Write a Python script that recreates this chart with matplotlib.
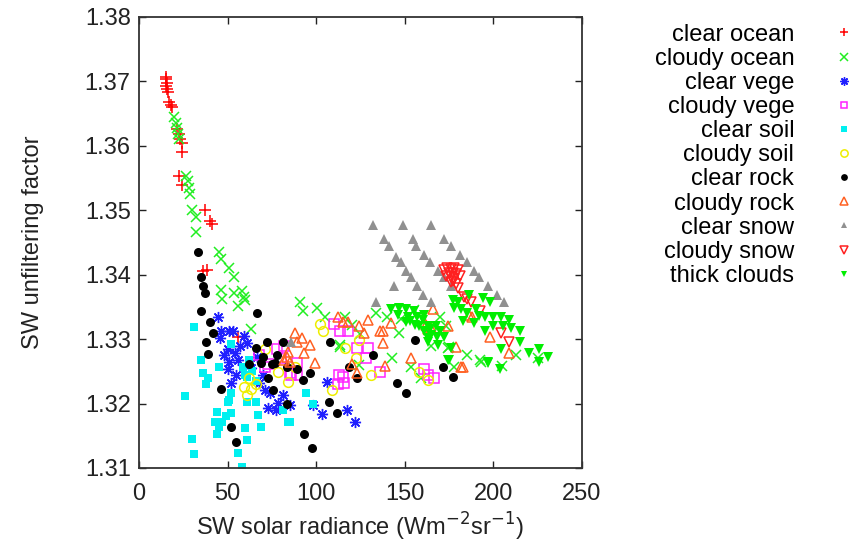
import matplotlib
matplotlib.use("Agg")
import matplotlib.pyplot as plt

plt.rcParams['font.family'] = ['Liberation Sans', 'DejaVu Sans']

# ---- data (x = SW radiance, y = unfiltering factor) ----
clear_ocean_x = [15.5, 15, 16, 15.5, 16, 16.5, 17, 18, 18.5, 21.5, 22.5, 23, 24, 24.5,
                 22.7, 24.4, 37, 40, 41, 36, 38.5, 56]
clear_ocean_y = [1.3707, 1.3703, 1.3698, 1.3693, 1.3688, 1.3683, 1.3668, 1.3664, 1.3660,
                 1.3626, 1.3618, 1.3610, 1.3605, 1.3590, 1.3553, 1.3540, 1.3500, 1.3483,
                 1.3478, 1.3405, 1.3407, 1.3304]

cloudy_ocean_x = [20, 21, 21.5, 22, 22.5, 26.7, 27.5, 28, 29, 30, 32, 32, 45, 46.5, 51,
                  53.5, 46, 47, 53.5, 58, 59, 60, 56, 63, 91, 92.6, 100.5, 105, 113.5,
                  116.5, 113.6, 124, 133.5, 143, 146.6, 153.5, 159, 174.5, 178, 192.6,
                  148, 175, 193, 173, 125, 120, 140, 165, 205, 185, 213, 225, 170, 155]
cloudy_ocean_y = [1.3644, 1.3635, 1.3627, 1.3618, 1.3610, 1.3553, 1.3545, 1.3535, 1.3525,
                  1.3500, 1.3490, 1.3466, 1.3435, 1.3424, 1.3411, 1.3396, 1.3377, 1.3363,
                  1.3372, 1.3374, 1.3366, 1.3361, 1.3351, 1.3316, 1.3357, 1.3344, 1.3349,
                  1.3335, 1.3291, 1.3335, 1.3288, 1.3260, 1.3341, 1.3271, 1.3310, 1.3256,
                  1.3240, 1.3287, 1.3256, 1.3268, 1.3332, 1.3288, 1.3265, 1.3320, 1.3308,
                  1.3322, 1.3335, 1.3290, 1.3258, 1.3275, 1.3275, 1.3270, 1.3335, 1.3345]

clear_vege_x = [44.5, 46.5, 51, 53, 45.5, 50, 54, 61, 57, 51, 56, 50, 55, 52, 66.5, 68,
                71, 74, 73, 78.5, 81, 77.5, 85, 98, 103.5, 106, 117.5, 122, 59, 63, 48, 70]
clear_vege_y = [1.3335, 1.3312, 1.3313, 1.3312, 1.3302, 1.3284, 1.3279, 1.3294, 1.3289,
                1.3265, 1.3268, 1.3253, 1.3245, 1.3232, 1.3273, 1.3232, 1.3221, 1.3217,
                1.3193, 1.3201, 1.3214, 1.3190, 1.3198, 1.3198, 1.3184, 1.3234, 1.3190,
                1.3172, 1.3305, 1.3255, 1.3275, 1.3245]

cloudy_vege_x = [71, 73, 85, 89, 115, 112.5, 110, 113.5, 118, 123, 129, 128, 136, 113,
                 115.5, 86, 89, 161, 163, 166.5, 78, 80, 82, 68]
cloudy_vege_y = [1.3256, 1.3262, 1.3248, 1.3245, 1.3242, 1.3231, 1.3323, 1.3312, 1.3312,
                 1.3287, 1.3287, 1.3271, 1.3249, 1.3245, 1.3232, 1.3245, 1.3263, 1.3253,
                 1.3245, 1.3240, 1.3285, 1.3270, 1.3290, 1.3275]

clear_soil_x = [26, 31, 35, 36, 39, 38, 45, 52, 52, 50, 44, 43, 47, 45, 52, 60, 44, 30,
                61, 31, 56, 58, 67, 69, 84, 94, 66, 61, 58.5, 62, 61, 51, 81, 98, 49, 85,
                64, 66, 60]
clear_soil_y = [1.3212, 1.3319, 1.3268, 1.3248, 1.3240, 1.3230, 1.3257, 1.3293, 1.3217,
                1.3203, 1.3187, 1.3172, 1.3172, 1.3164, 1.3186, 1.3162, 1.3152, 1.3145,
                1.3144, 1.3122, 1.3123, 1.3102, 1.3183, 1.3164, 1.3172, 1.3217, 1.3203,
                1.3203, 1.3256, 1.3268, 1.3242, 1.3206, 1.3190, 1.3200, 1.3181, 1.3172,
                1.3250, 1.3235, 1.3245]

cloudy_soil_x = [62, 61, 63, 71, 78.5, 84, 102, 104, 109, 116.5, 122.5, 131, 158, 163,
                 66, 59, 124, 88]
cloudy_soil_y = [1.3240, 1.3214, 1.3222, 1.3284, 1.3249, 1.3234, 1.3323, 1.3312, 1.3221,
                 1.3287, 1.3271, 1.3245, 1.3249, 1.3237, 1.3231, 1.3226, 1.3298, 1.3256]

clear_rock_x = [33.5, 35, 36, 37, 35, 40, 41.5, 38, 39, 66.5, 72, 81, 66, 78, 69, 46.5,
                77, 83.5, 73, 75.5, 92.5, 96.5, 83.5, 107, 112, 108, 52, 54.5, 93, 97.5,
                89, 132, 123, 118.7, 156, 145.5, 150.5, 171.5, 177, 62, 70, 75]
clear_rock_y = [1.3436, 1.3397, 1.3382, 1.3372, 1.3344, 1.3326, 1.3309, 1.3296, 1.3277,
                1.3340, 1.3296, 1.3296, 1.3287, 1.3276, 1.3263, 1.3223, 1.3263, 1.3256,
                1.3240, 1.3221, 1.3237, 1.3248, 1.3200, 1.3203, 1.3186, 1.3296, 1.3164,
                1.3141, 1.3152, 1.3131, 1.3254, 1.3276, 1.3240, 1.3256, 1.3299, 1.3232,
                1.3217, 1.3257, 1.3242, 1.3262, 1.3273, 1.3262]

cloudy_rock_x = [88, 92, 96.5, 99.5, 83.5, 84, 82, 85, 115, 112.5, 118, 124, 127, 129.5,
                 136, 139, 153.5, 166, 161, 174.5, 182, 163, 137.5, 137.5, 179, 183, 186,
                 188, 198, 209, 142, 120, 123, 162, 165, 89, 93]
cloudy_rock_y = [1.3310, 1.3302, 1.3291, 1.3263, 1.3273, 1.3280, 1.3268, 1.3265, 1.3327,
                 1.3335, 1.3326, 1.3320, 1.3310, 1.3330, 1.3312, 1.3259, 1.3271, 1.3346,
                 1.3327, 1.3320, 1.3256, 1.3315, 1.3312, 1.3294, 1.3288, 1.3256, 1.3338,
                 1.3335, 1.3304, 1.3279, 1.3325, 1.3262, 1.3248, 1.3322, 1.3318, 1.3295,
                 1.3278]

clear_snow_x = [132, 149, 165, 138, 141, 145, 148, 150.5, 153.5, 157, 160, 165,
                154.5, 156.5, 161, 164, 169, 172, 176, 172, 176, 181, 185, 189, 192, 197,
                202, 206, 144, 133.5, 86]
clear_snow_y = [1.3477, 1.3477, 1.3477, 1.3455, 1.3444, 1.3428, 1.3419, 1.3405,
                1.3396, 1.3382, 1.3369, 1.3357, 1.3455, 1.3444, 1.3431, 1.3419, 1.3405,
                1.3396, 1.3383, 1.3455, 1.3444, 1.3430, 1.3419, 1.3405, 1.3396, 1.3383,
                1.3369, 1.3357, 1.3383, 1.3358, 1.3296]

cloudy_snow_x = [172, 174, 176, 178, 180, 175, 177, 179, 173, 176, 178, 181, 177, 179,
                 180, 183.5, 187.5, 192.6, 204.5, 209, 185, 176]
cloudy_snow_y = [1.3408, 1.3410, 1.3409, 1.3410, 1.3408, 1.3403, 1.3402, 1.3401, 1.3398,
                 1.3396, 1.3394, 1.3398, 1.3390, 1.3385, 1.3380, 1.3365, 1.3357, 1.3343,
                 1.3309, 1.3295, 1.3362, 1.3388]

thick_x = [142, 146.5, 150.5, 155, 157, 152, 161, 153, 158, 163, 167.5, 165, 168, 163,
           168.5, 176, 175, 197, 203.5, 150.5, 156, 161, 163, 174.5, 177, 180, 186, 194,
           198, 182, 190, 195, 200, 204.5, 209, 189, 195, 200, 205.5, 215, 220, 225.5,
           231, 225.5, 204.5, 197, 164, 172, 160, 146, 170, 185, 192, 178, 183, 210, 215]
thick_y = [1.3346, 1.3349, 1.3346, 1.3343, 1.3335, 1.3335, 1.3338, 1.3328, 1.3320, 1.3320,
           1.3320, 1.3307, 1.3304, 1.3295, 1.3291, 1.3286, 1.3268, 1.3263, 1.3253, 1.3327,
           1.3322, 1.3312, 1.3302, 1.3268, 1.3361, 1.3357, 1.3369, 1.3364, 1.3357, 1.3346,
           1.3346, 1.3335, 1.3335, 1.3335, 1.3330, 1.3325, 1.3312, 1.3320, 1.3320, 1.3295,
           1.3279, 1.3284, 1.3273, 1.3265, 1.3284, 1.3265, 1.3315, 1.3304, 1.3330, 1.3338,
           1.3312, 1.3340, 1.3336, 1.3349, 1.3328, 1.3318, 1.3312]

x_ticks = [0, 50, 100, 150, 200, 250]
y_ticks = [1.31, 1.32, 1.33, 1.34, 1.35, 1.36, 1.37, 1.38]

fig = plt.figure(figsize=(8.65, 5.48), dpi=100)
ax = fig.add_axes([0.1607, 0.146, 0.5121, 0.823])

ms = 7
ax.plot(clear_ocean_x, clear_ocean_y, ls='none', marker='+', ms=ms + 1, mew=1.1,
        color='#ff0000', label='clear ocean')
ax.plot(cloudy_ocean_x, cloudy_ocean_y, ls='none', marker='x', ms=ms, mew=1.1,
        color='#22ee22', label='cloudy ocean')
ax.plot(clear_vege_x, clear_vege_y, ls='none', marker=(8, 2, 0), ms=ms + 1, mew=1.0,
        color='#2020ff', label='clear vege')
ax.plot(cloudy_vege_x, cloudy_vege_y, ls='none', marker='s', ms=ms - 0.5, mew=1.1,
        mfc='none', mec='#ff22ff', label='cloudy vege')
ax.plot(clear_soil_x, clear_soil_y, ls='none', marker='s', ms=ms - 1, mew=0,
        color='#00f0f0', label='clear soil')
ax.plot(cloudy_soil_x, cloudy_soil_y, ls='none', marker='o', ms=ms, mew=1.1,
        mfc='none', mec='#eeee00', label='cloudy soil')
ax.plot(clear_rock_x, clear_rock_y, ls='none', marker='o', ms=ms - 0.5, mew=0,
        color='#000000', label='clear rock')
ax.plot(cloudy_rock_x, cloudy_rock_y, ls='none', marker='^', ms=ms, mew=1.1,
        mfc='none', mec='#ff6022', label='cloudy rock')
ax.plot(clear_snow_x, clear_snow_y, ls='none', marker='^', ms=ms - 0.5, mew=0,
        color='#909090', label='clear snow')
ax.plot(cloudy_snow_x, cloudy_snow_y, ls='none', marker='v', ms=ms, mew=1.1,
        mfc='none', mec='#ff2020', label='cloudy snow')
ax.plot(thick_x, thick_y, ls='none', marker='v', ms=ms - 0.5, mew=0,
        color='#00ee00', label='thick clouds')

ax.set_xlim(0, 250)
ax.set_ylim(1.31, 1.38)
ax.set_xticks(x_ticks)
ax.set_yticks(y_ticks)
ax.set_yticklabels(['%.2f' % v for v in y_ticks])
ax.tick_params(direction='in', length=5, width=1, top=True, right=True,
               labelsize=17, colors='#222222', pad=6)
ax.tick_params(axis='x', pad=11)
for s in ax.spines.values():
    s.set_linewidth(1.3)
    s.set_color('#333333')

ax.set_xlabel('SW solar radiance (Wm$^{-2}$sr$^{-1}$)', fontsize=17, color='#222222',
              labelpad=4)
ax.set_ylabel('SW unfiltering factor', fontsize=17, color='#222222', labelpad=29)

fig.legend(loc='upper right', bbox_to_anchor=(1.0, 0.974), markerfirst=False,
           frameon=False, fontsize=17, labelspacing=0.09, handlelength=1.0,
           handletextpad=1.6, borderaxespad=0, numpoints=1, markerscale=0.75)

fig.savefig('out.png', dpi=100)
